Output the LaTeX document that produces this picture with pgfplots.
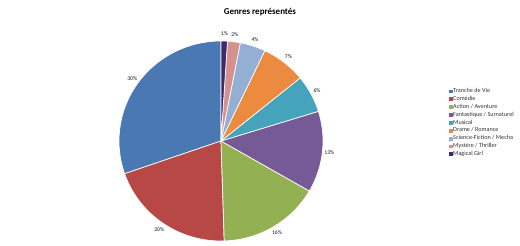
\documentclass[border=0pt]{standalone}
\usepackage{fontspec}
\setmainfont{Carlito}
\usepackage{pgfplots}
\pgfplotsset{compat=1.18}
\definecolor{c1}{HTML}{4A78B2}
\definecolor{c2}{HTML}{B84845}
\definecolor{c3}{HTML}{93B152}
\definecolor{c4}{HTML}{765A96}
\definecolor{c5}{HTML}{46A3BC}
\definecolor{c6}{HTML}{EC8A3F}
\definecolor{c7}{HTML}{94AFD4}
\definecolor{c8}{HTML}{D4928F}
\definecolor{c9}{HTML}{3F2A6E}
\tikzset{lbl/.style={font=\fontsize{5.7}{6}\selectfont, text=black!90}}
\begin{document}
\begin{tikzpicture}
\begin{axis}[
  width=520bp, height=245bp, scale only axis,
  xmin=0, xmax=520, ymin=0, ymax=245,
  hide axis, clip=false,
  legend cell align=left,
  legend image code/.code={\fill[#1] (0.03cm,-0.05cm) rectangle (0.13cm,0.05cm);},
  legend style={at={(axis cs:446,160)}, anchor=north west, draw=none, fill=none,
    font=\fontsize{6.2}{7}\selectfont, text=black!80,
    nodes={inner ysep=1.05pt, inner xsep=0.8pt, text height=4.4pt, text depth=1.4pt},
    row sep=0pt},
]
\path[draw=none] (rel axis cs:0,0) rectangle (rel axis cs:1,1);
\addlegendimage{c1}\addlegendentry{Tranche de Vie}
\addlegendimage{c2}\addlegendentry{Comédie}
\addlegendimage{c3}\addlegendentry{Action / Aventure}
\addlegendimage{c4}\addlegendentry{Fantastique / Surnaturel}
\addlegendimage{c5}\addlegendentry{Musical}
\addlegendimage{c6}\addlegendentry{Drame / Romance}
\addlegendimage{c7}\addlegendentry{Science-Fiction / Mecha}
\addlegendimage{c8}\addlegendentry{Mystère / Thriller}
\addlegendimage{c9}\addlegendentry{Magical Girl}
\foreach \v/\c [remember=\e as \s (initially 90)] in {30/c1,20/c2,16/c3,13/c4,6/c5,7/c6,4/c7,2/c8,1/c9} {
  \pgfmathsetmacro\e{\s+\v*360/99}
  \pgfmathsetmacro\m{(\s+\e)/2}
  \pgfmathtruncatemacro\n{max(3,\v*4)}
  \xdef\pth{(axis cs:221,104)}
  \foreach \k in {0,...,\n} {
    \pgfmathsetmacro\t{\s+(\e-\s)*\k/\n}
    \pgfmathsetmacro\xa{221+102*cos(\t)}
    \pgfmathsetmacro\ya{104+100*sin(\t)}
    \xdef\pth{\pth -- (axis cs:\xa,\ya)}
  }
  \pgfmathsetmacro\xl{221+109*cos(\m)}
  \pgfmathsetmacro\yl{104+107*sin(\m)}
  \edef\temp{\noexpand\fill[\c, draw=white, line width=0.7pt] \pth -- cycle;
    \noexpand\node[lbl] at (axis cs:\xl,\yl) {\v\noexpand\%};}
  \temp
}
\node[font=\fontsize{9}{10}\selectfont\bfseries] at (axis cs:260,233) {Genres représentés};
\end{axis}
\end{tikzpicture}
\end{document}
